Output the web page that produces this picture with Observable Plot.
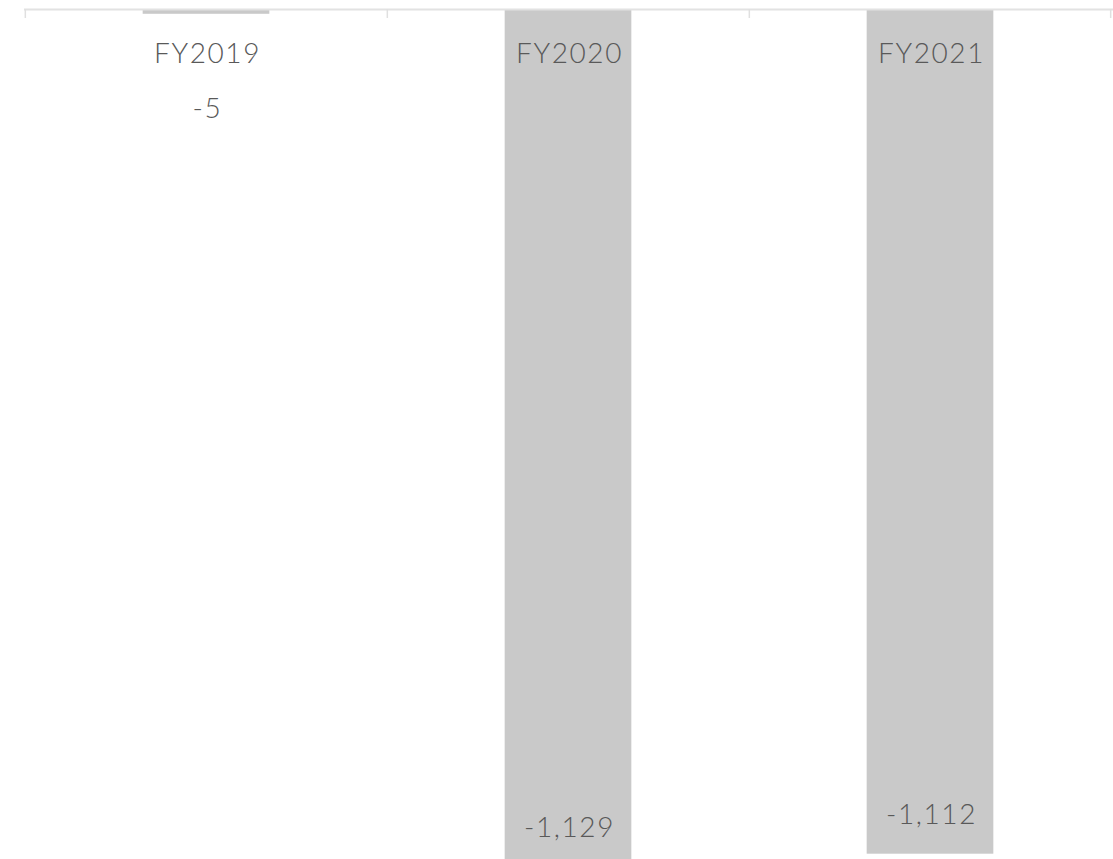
<!DOCTYPE html>
<html>
<head>
<meta charset="utf-8">
<script src="https://cdn.jsdelivr.net/npm/d3@7"></script>
<script src="https://cdn.jsdelivr.net/npm/@observablehq/plot@0.6"></script>
<style>
  html, body { margin: 0; padding: 0; background: #fff; overflow: hidden; }
  #chart svg { display: block; }
  #chart svg text { letter-spacing: 1.6px; }
</style>
</head>
<body>
<div id="chart"></div>
<script>
const categories = ["FY2019", "FY2020", "FY2021"];
const values = [-5, -1129, -1112];
const valueLabels = ["-5", "-1,129", "-1,112"];

const data = categories.map((c, i) => ({ category: c, value: values[i], label: valueLabels[i] }));

const W = 1113, H = 859;
const mLeft = 24, mRight = 2, mTop = 10, mBottom = 0;
const bw = (W - mLeft - mRight) / categories.length;
const barWidth = 127;
const inset = (bw - barWidth) / 2;
const font = "Lato, 'Noto Sans', sans-serif";
const textColor = "#595959";
const small = d => Math.abs(d.value) < 100;

const chart = Plot.plot({
  width: W,
  height: H,
  marginLeft: mLeft,
  marginRight: mRight,
  marginTop: mTop,
  marginBottom: mBottom,
  x: { type: "band", domain: categories, padding: 0, axis: null },
  y: { domain: [0, -1119], range: [mTop, H - mBottom], axis: null },
  style: { fontFamily: font, background: "#fff" },
  marks: [
    Plot.barY(data, { x: "category", y: "value", fill: "#c9c9c9", insetLeft: inset, insetRight: inset, clip: true }),
    Plot.ruleY([0], { stroke: "#e2e2e2", strokeWidth: 2, dy: -1, insetRight: -2 }),
    Plot.ruleX(categories, { x: d => d, dx: -bw / 2, stroke: "#e0e0e0", strokeWidth: 1.5, insetBottom: H - mTop - mBottom - 8, insetTop: -1 }),
    Plot.ruleX(categories.slice(-1), { x: d => d, dx: bw / 2 - 1, stroke: "#e0e0e0", strokeWidth: 1.5, insetBottom: H - mTop - mBottom - 8, insetTop: -1 }),
    Plot.text(categories, { x: d => d, frameAnchor: "top", lineAnchor: "bottom", dy: 52, dx: 1, text: d => d, fontSize: 28, fontWeight: 300, fill: textColor, fontFamily: font }),
    Plot.text(data.filter(small), { x: "category", y: "value", lineAnchor: "bottom", dy: 104, dx: 1, text: "label", fontSize: 28, fontWeight: 300, fill: textColor, fontFamily: font }),
    Plot.text(data.filter(d => !small(d)), { x: "category", y: "value", lineAnchor: "bottom", dy: -30, dx: 1, text: "label", fontSize: 28, fontWeight: 300, fill: textColor, fontFamily: font })
  ]
});
document.getElementById("chart").append(chart);
</script>
</body>
</html>
